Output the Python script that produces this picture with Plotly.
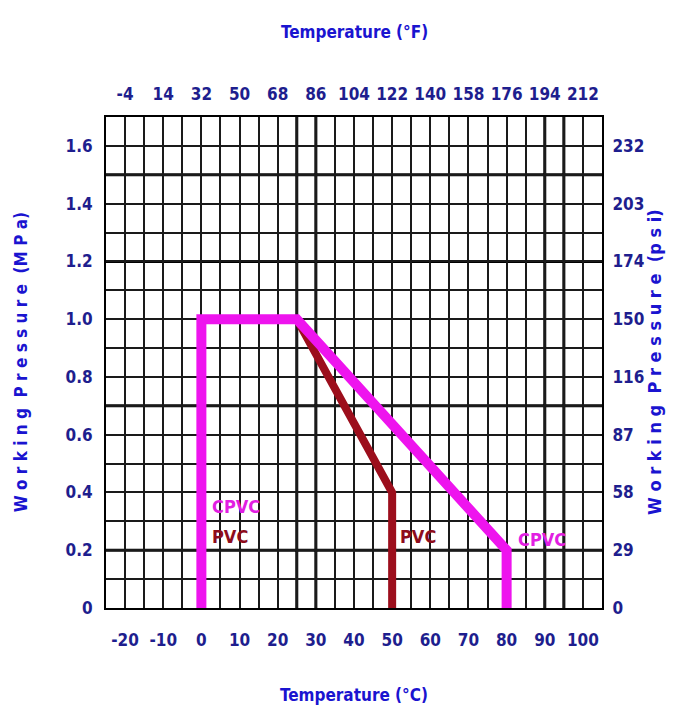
import plotly.graph_objects as go

# ---- data ----
temp_c_ticks = [-20, -10, 0, 10, 20, 30, 40, 50, 60, 70, 80, 90, 100]
temp_f_labels = ["-4", "14", "32", "50", "68", "86", "104", "122", "140", "158", "176", "194", "212"]
mpa_ticks = [0, 0.2, 0.4, 0.6, 0.8, 1.0, 1.2, 1.4, 1.6]
mpa_labels = ["0", "0.2", "0.4", "0.6", "0.8", "1.0", "1.2", "1.4", "1.6"]
psi_labels = ["0", "29", "58", "87", "116", "150", "174", "203", "232"]

cpvc_temp = [0, 0, 25, 80, 80]
cpvc_mpa = [0, 1.0, 1.0, 0.2, 0]
pvc_temp = [0, 0, 25, 50, 50]
pvc_mpa = [0, 1.0, 1.0, 0.4, 0]

thick_x = [25, 30, 90, 95]
thick_y = [0.2, 0.7, 1.2, 1.5]

labels_text = ["CPVC", "PVC", "PVC", "CPVC"]
labels_x = [2.2, 2.2, 51.6, 82.5]
labels_y = [0.35, 0.247, 0.247, 0.236]
labels_color = ["#e21ee2", "#8e0c1c", "#8e0c1c", "#e21ee2"]

x_range = [-25, 105]
y_range = [0, 1.7]

FONT = "'DejaVu Sans Condensed', 'Liberation Sans Narrow', 'Roboto Condensed', 'Arial Narrow', 'DejaVu Sans', sans-serif"
TICK_COLOR = "#1e1e8e"
TITLE_COLOR = "#1a14d0"

fig = go.Figure()

fig.add_trace(go.Scatter(x=pvc_temp, y=pvc_mpa, mode="lines",
                         line=dict(color="#9c0e1c", width=8), hoverinfo="skip",
                         showlegend=False))
fig.add_trace(go.Scatter(x=cpvc_temp, y=cpvc_mpa, mode="lines",
                         line=dict(color="#ee14ee", width=10), hoverinfo="skip",
                         showlegend=False))
# invisible trace to anchor secondary axes
fig.add_trace(go.Scatter(x=[x_range[0]], y=[y_range[0]], xaxis="x2", yaxis="y2",
                         mode="markers", marker=dict(opacity=0), hoverinfo="skip",
                         showlegend=False))

for t, x, y, c in zip(labels_text, labels_x, labels_y, labels_color):
    fig.add_annotation(x=x, y=y, xref="x", yref="y", text="<b>%s</b>" % t,
                       showarrow=False, xanchor="left", yanchor="middle",
                       font=dict(family=FONT, size=18, color=c))

for xv in thick_x:
    fig.add_shape(type="line", xref="x", yref="paper", x0=xv, x1=xv, y0=0, y1=1,
                  line=dict(color="black", width=3), layer="below")
for yv in thick_y:
    fig.add_shape(type="line", xref="paper", yref="y", x0=0, x1=1, y0=yv, y1=yv,
                  line=dict(color="black", width=3), layer="below")

tickfont = dict(family=FONT, size=17, color=TICK_COLOR)
grid = dict(gridcolor="#1a1a1a", gridwidth=1.5)

fig.update_layout(
    width=684, height=711,
    margin=dict(l=98, r=90, t=109, b=111),
    paper_bgcolor="white", plot_bgcolor="white",
    showlegend=False,
    xaxis=dict(range=x_range, tickvals=temp_c_ticks,
               ticktext=["<b>%d</b>" % v for v in temp_c_ticks],
               showgrid=True, **grid, zeroline=False,
               minor=dict(tick0=-25, dtick=5, showgrid=True, gridcolor="#1a1a1a", gridwidth=1.5),
               showline=True, linecolor="black", linewidth=2, mirror=True,
               ticks="outside", ticklen=16, tickcolor="rgba(0,0,0,0)",
               tickfont=tickfont),
    xaxis2=dict(range=x_range, overlaying="x", side="top", tickvals=temp_c_ticks,
                ticktext=["<b>%s</b>" % v for v in temp_f_labels],
                showgrid=False, zeroline=False,
                ticks="outside", ticklen=9, tickcolor="rgba(0,0,0,0)",
                tickfont=tickfont),
    yaxis=dict(range=y_range, tickvals=mpa_ticks,
               ticktext=["<b>%s</b>" % v for v in mpa_labels],
               showgrid=True, **grid, zeroline=False,
               minor=dict(tick0=0, dtick=0.1, showgrid=True, gridcolor="#1a1a1a", gridwidth=1.5),
               showline=True, linecolor="black", linewidth=2, mirror=True,
               ticks="outside", ticklen=8, tickcolor="rgba(0,0,0,0)",
               tickfont=tickfont),
    yaxis2=dict(range=y_range, overlaying="y", side="right", tickvals=mpa_ticks,
                ticktext=["<b>%s</b>" % v for v in psi_labels],
                showgrid=False, zeroline=False,
                ticks="outside", ticklen=6, tickcolor="rgba(0,0,0,0)",
                tickfont=tickfont),
)

title_font = dict(family=FONT, size=17, color=TITLE_COLOR)
side_font_l = dict(family=FONT, size=17, color=TITLE_COLOR)
side_font_r = dict(family=FONT, size=18, color=TITLE_COLOR)
fig.add_annotation(x=0.5, y=1.173, xref="paper", yref="paper",
                   text="<b>Temperature (°F)</b>", showarrow=False,
                   xanchor="center", yanchor="middle", font=title_font)
fig.add_annotation(x=0.5, y=-0.177, xref="paper", yref="paper",
                   text="<b>Temperature (°C)</b>", showarrow=False,
                   xanchor="center", yanchor="middle", font=title_font)
fig.add_annotation(x=-0.172, y=0.5, xref="paper", yref="paper",
                   text="<b>W o r k i n g  P r e s s u r e  (M P a)</b>", showarrow=False,
                   textangle=-90, xanchor="center", yanchor="middle", font=side_font_l)
fig.add_annotation(x=1.106, y=0.5, xref="paper", yref="paper",
                   text="<b>W o r k i n g  P r e s s u r e  (p s i)</b>", showarrow=False,
                   textangle=-90, xanchor="center", yanchor="middle", font=side_font_r)

fig.write_html("out.html")
